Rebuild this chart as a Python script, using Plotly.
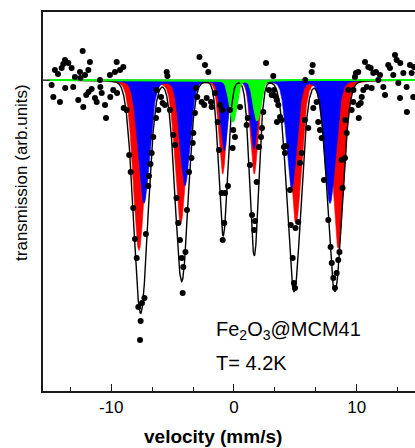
import numpy as np
import plotly.graph_objects as go

# ---- measured data (velocity in mm/s, transmission in arb. units, baseline = 1000) ----
velocity = [
    -14.85, -14.71, -14.58, -14.33, -14.17, -14.03, -13.90, -13.76, -13.74, -13.49,
    -13.22, -13.09, -12.95, -12.68, -12.54, -12.50, -12.32, -12.27, -12.13, -12.03,
    -11.86, -11.84, -11.73, -11.59, -11.32, -11.18, -10.91, -10.88, -10.77, -10.50,
    -10.42, -10.10, -10.07, -9.83, -9.69, -9.55, -9.52, -9.28, -9.01, -8.98,
    -8.74, -8.53, -8.41, -8.20, -8.06, -7.92, -7.79, -7.65, -7.60, -7.49,
    -7.29, -7.17, -6.98, -6.92, -6.80, -6.70, -6.57, -6.35, -6.29, -6.16,
    -5.94, -5.81, -5.62, -5.48, -5.42, -5.21, -4.94, -4.80, -4.68, -4.54,
    -4.40, -4.26, -4.18, -4.13, -3.95, -3.83, -3.66, -3.46, -3.36, -3.31,
    -3.18, -3.09, -2.99, -2.81, -2.63, -2.42, -2.36, -2.22, -2.09, -1.87,
    -1.82, -1.55, -1.33, -1.22, -1.14, -1.00, -0.95, -0.92, -0.79, -0.73,
    -0.49, -0.33, -0.11, -0.06, 0.08, 0.49, 1.03, 1.12, 1.30, 1.47,
    1.65, 1.71, 1.85, 2.04, 2.20, 2.28, 2.39, 2.61, 2.85, 3.07,
    3.20, 3.26, 3.34, 3.48, 3.50, 3.61, 3.75, 3.88, 4.07, 4.15,
    4.23, 4.56, 4.62, 4.78, 4.89, 4.97, 5.01, 5.24, 5.37, 5.51,
    5.78, 5.80, 6.05, 6.33, 6.41, 6.46, 6.73, 6.86, 7.00, 7.14,
    7.33, 7.68, 7.87, 7.96, 8.09, 8.22, 8.36, 8.49, 8.59, 8.77,
    8.84, 9.04, 9.06, 9.18, 9.31, 9.58, 9.71, 9.73, 9.85, 9.93,
    10.12, 10.14, 10.16, 10.32, 10.40, 10.53, 10.67, 10.81, 10.94, 11.13,
    11.21, 11.34, 11.56, 11.75, 11.89, 12.16, 12.30, 12.56, 12.70, 12.97,
    13.11, 13.25, 13.38, 13.52, 13.54, 13.79, 14.06, 14.08, 14.33, 14.47,
    14.60, 14.66,
]
transmission = [
    995, 983, 1010, 1006, 978, 1012, 1016, 1020, 992, 1017,
    1012, 993, 1003, 980, 1008, 1002, 1029, 973, 1005, 985,
    1010, 988, 1018, 991, 982, 978, 1000, 993, 987, 975,
    962, 1005, 983, 990, 1008, 1018, 987, 1010, 1013, 972,
    970, 925, 908, 872, 841, 822, 773, 740, 759, 777,
    782, 846, 894, 904, 916, 927, 943, 962, 990, 970,
    983, 977, 975, 1008, 1004, 970, 945, 935, 882, 857,
    840, 822, 787, 813, 828, 870, 908, 922, 937, 947,
    967, 992, 983, 1023, 978, 975, 1015, 982, 1008, 978,
    973, 987, 958, 930, 975, 887, 970, 840, 857, 887,
    894, 970, 932, 950, 943, 973, 955, 962, 915, 865,
    850, 859, 898, 933, 943, 952, 968, 1017, 990, 985,
    1004, 990, 984, 980, 958, 975, 963, 960, 933, 927,
    934, 890, 855, 822, 797, 792, 852, 858, 917, 927,
    960, 1000, 952, 1008, 1015, 972, 978, 958, 950, 942,
    900, 860, 833, 817, 802, 792, 807, 820, 828, 920,
    892, 922, 960, 947, 990, 970, 978, 990, 1003, 1007,
    1008, 975, 962, 977, 983, 990, 1018, 993, 1013, 1012,
    992, 1007, 1008, 1000, 1005, 993, 985, 1015, 1012, 1005,
    1025, 1020, 997, 982, 1017, 1007, 993, 968, 1015, 1007,
    983, 1013,
]

baseline = 1000.0

# sub-spectrum parameters
red_pos = [-7.74, -4.34, -0.92, 1.65, 5.05, 8.49]
red_depth = [170, 143, 93, 93, 143, 168]
red_sigma = [0.46, 0.44, 0.30, 0.30, 0.44, 0.46]

blue_pos = [-7.33, -3.99, -0.79, 1.63, 4.70, 7.82]
blue_depth = [123, 105, 70, 68, 108, 123]
blue_sigma = [0.46, 0.41, 0.30, 0.30, 0.41, 0.46]

green_pos = [-0.08, 1.88]
green_depth = [41, 40]
green_sigma = [0.28, 0.28]

fit_pos = [-7.60, -4.26, -0.88, 1.65, 4.89, 8.22]
fit_depth = [233, 201, 155, 175, 211, 211]
fit_sigma = [0.58, 0.52, 0.36, 0.36, 0.55, 0.58]

x_ticks = [-10, 0, 10]


def absorption(v, pos, depth, sigma, eta):
    v = np.asarray(v)
    out = np.zeros_like(v, dtype=float)
    for p, d, s in zip(pos, depth, sigma):
        g = np.exp(-((v - p) ** 2) / (2 * s * s))
        hw = 1.1774 * s
        lor = 1.0 / (1.0 + ((v - p) / hw) ** 2)
        out += d * ((1 - eta) * g + eta * lor)
    return out


grid = np.linspace(-15.0, 15.0, 1801)
fit_grid = np.linspace(-15.6, 15.0, 1801)

red_curve = baseline - absorption(grid, red_pos, red_depth, red_sigma, 0.15)
blue_curve = baseline - absorption(grid, blue_pos, blue_depth, blue_sigma, 0.15)
green_curve = baseline - absorption(grid, green_pos, green_depth, green_sigma, 0.15)
fit_curve = baseline - absorption(fit_grid, fit_pos, fit_depth, fit_sigma, 0.05)


def poly(curve):
    xs = np.concatenate([grid, grid[::-1]])
    ys = np.concatenate([curve, np.full(grid.size, baseline)])
    return xs, ys


fig = go.Figure()
for curve, col in [(red_curve, "#ff0000"), (blue_curve, "#0000ff"), (green_curve, "#00ff00")]:
    xs, ys = poly(curve)
    fig.add_trace(go.Scatter(x=xs, y=ys, mode="lines", fill="toself", fillcolor=col,
                             line=dict(color=col, width=0.6), hoverinfo="skip",
                             showlegend=False))

fig.add_trace(go.Scatter(x=fit_grid, y=fit_curve, mode="lines",
                         line=dict(color="black", width=1.4), showlegend=False))
fig.add_trace(go.Scatter(x=grid, y=green_curve, mode="lines",
                         line=dict(color="#00ff00", width=2), showlegend=False))
fig.add_trace(go.Scatter(x=velocity, y=transmission, mode="markers",
                         marker=dict(color="black", size=6), showlegend=False))

font = "Liberation Sans, Arial, sans-serif"

fig.update_layout(
    width=415, height=448,
    margin=dict(l=43, r=0, t=12, b=57),
    plot_bgcolor="white", paper_bgcolor="white",
    font=dict(family=font, color="black", size=16),
    xaxis=dict(range=[-15.55, 14.74], showgrid=False, zeroline=False,
               showline=True, linecolor="#1a1a1a", linewidth=1.6, mirror=True,
               tickmode="array", tickvals=x_ticks, ticktext=[str(t) for t in x_ticks],
               ticks="inside", ticklen=7, tickwidth=1.3, tickcolor="#1a1a1a",
               tickfont=dict(size=17, family=font, color="black"),
               minor=dict(tickmode="linear", tick0=0, dtick=10 / 3, ticks="inside",
                          ticklen=4, tickwidth=1.3, tickcolor="#1a1a1a", showgrid=False)),
    yaxis=dict(range=[689, 1068], showgrid=False, zeroline=False,
               showline=True, linecolor="#1a1a1a", linewidth=1.6,
               showticklabels=False, ticks=""),
    annotations=[
        dict(text="<b>velocity (mm/s)</b>", xref="paper", yref="paper",
             x=0.457, y=-0.1206, xanchor="center", yanchor="middle",
             showarrow=False, font=dict(size=19, family=font, color="black")),
        dict(text="transmission (arb.units)", xref="paper", yref="paper",
             x=-0.0565, y=0.578, xanchor="center", yanchor="middle", textangle=-90,
             showarrow=False, font=dict(size=17, family=font, color="black")),
        dict(text="Fe<sub>2</sub>O<sub>3</sub>@MCM41", xref="paper", yref="paper",
             x=0.4605, y=0.159, xanchor="left", yanchor="middle",
             showarrow=False, font=dict(size=20, family=font, color="black")),
        dict(text="T= 4.2K", xref="paper", yref="paper",
             x=0.4605, y=0.073, xanchor="left", yanchor="middle",
             showarrow=False, font=dict(size=20, family=font, color="black")),
    ],
)

fig.write_html("out.html")
